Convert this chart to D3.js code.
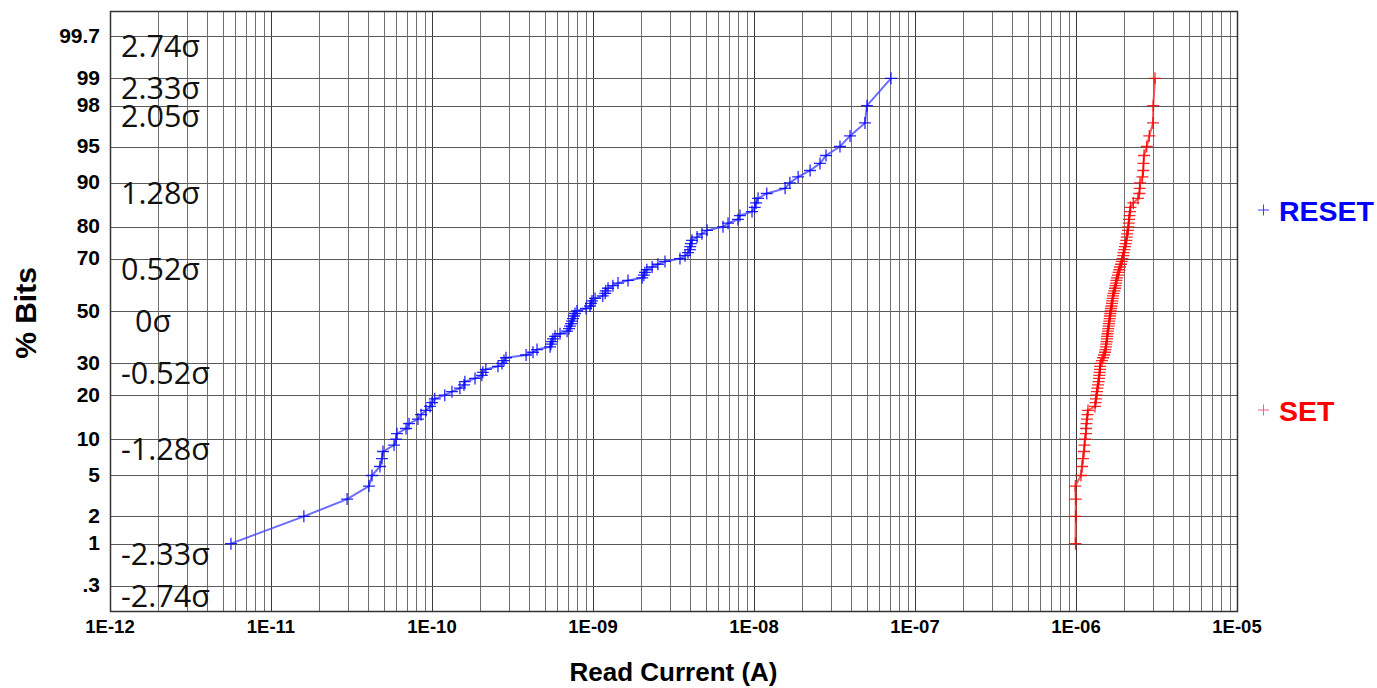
<!DOCTYPE html>
<html>
<head>
<meta charset="utf-8">
<script src="https://cdn.jsdelivr.net/npm/d3@7"></script>
<style>
  html, body { margin: 0; padding: 0; background: #fff; }
  svg { display: block; }
</style>
</head>
<body>
<svg id="chart" width="1377" height="688"></svg>
<script>
// Cumulative plotting positions (% of bits) shared by both distributions
const percentBits = [
   1,  2,  3,  4,  5,  6,  7,  8,  9, 10, 11, 12, 13, 14, 15, 16, 17, 18, 19, 20,
  21, 22, 23, 24, 25, 26, 27, 28, 29, 30, 31, 32, 33, 34, 35, 36, 37, 38, 39, 40,
  41, 42, 43, 44, 45, 46, 47, 48, 49, 50, 51, 52, 53, 54, 55, 56, 57, 58, 59, 60,
  61, 62, 63, 64, 65, 66, 67, 68, 69, 70, 71, 72, 73, 74, 75, 76, 77, 78, 79, 80,
  81, 82, 83, 84, 85, 86, 87, 88, 89, 90, 91, 92, 93, 94, 95, 96, 97, 98, 99
];

// Read current (A) of the RESET (high resistance) state
const resetCurrent = [
  5.64e-12, 1.60e-11, 2.97e-11, 4.06e-11, 4.24e-11, 4.75e-11, 4.89e-11, 4.96e-11, 5.81e-11, 5.98e-11,
  6.06e-11, 6.90e-11, 7.20e-11, 8.18e-11, 8.55e-11, 9.18e-11, 9.72e-11, 1.00e-10, 1.04e-10, 1.20e-10,
  1.33e-10, 1.49e-10, 1.58e-10, 1.60e-10, 1.85e-10, 2.04e-10, 2.07e-10, 2.16e-10, 2.57e-10, 2.72e-10,
  2.80e-10, 2.88e-10, 3.84e-10, 4.24e-10, 4.49e-10, 5.41e-10, 5.48e-10, 5.56e-10, 5.64e-10, 5.81e-10,
  6.24e-10, 6.90e-10, 7.09e-10, 7.20e-10, 7.30e-10, 7.41e-10, 7.51e-10, 7.62e-10, 7.73e-10, 7.95e-10,
  9.05e-10, 9.58e-10, 9.72e-10, 9.86e-10, 1.03e-9,  1.15e-9,  1.19e-9,  1.20e-9,  1.24e-9,  1.33e-9,
  1.43e-9,  1.65e-9,  2.02e-9,  2.07e-9,  2.10e-9,  2.16e-9,  2.33e-9,  2.53e-9,  2.80e-9,  3.47e-9,
  3.73e-9,  3.89e-9,  4.00e-9,  4.02e-9,  4.06e-9,  4.12e-9,  4.43e-9,  4.75e-9,  5.11e-9,  6.42e-9,
  6.90e-9,  7.95e-9,  8.18e-9,  9.72e-9,  1.01e-8,  1.03e-8,  1.06e-8,  1.20e-8,  1.56e-8,  1.67e-8,
  1.88e-8,  2.23e-8,  2.57e-8,  2.80e-8,  3.42e-8,  3.95e-8,  4.89e-8,  5.03e-8,  7.09e-8
];

// Read current (A) of the SET (low resistance) state
const setCurrent = [
  0.993e-6, 0.995e-6, 0.996e-6, 0.990e-6, 1.074e-6, 1.090e-6, 1.105e-6, 1.121e-6, 1.129e-6, 1.137e-6,
  1.154e-6, 1.155e-6, 1.162e-6, 1.170e-6, 1.179e-6, 1.187e-6, 1.312e-6, 1.322e-6, 1.331e-6, 1.341e-6,
  1.350e-6, 1.360e-6, 1.370e-6, 1.380e-6, 1.390e-6, 1.396e-6, 1.400e-6, 1.410e-6, 1.412e-6, 1.420e-6,
  1.450e-6, 1.472e-6, 1.493e-6, 1.514e-6, 1.525e-6, 1.536e-6, 1.542e-6, 1.549e-6, 1.558e-6, 1.562e-6,
  1.569e-6, 1.580e-6, 1.587e-6, 1.594e-6, 1.603e-6, 1.610e-6, 1.619e-6, 1.626e-6, 1.633e-6, 1.642e-6,
  1.650e-6, 1.661e-6, 1.673e-6, 1.680e-6, 1.690e-6, 1.697e-6, 1.710e-6, 1.729e-6, 1.747e-6, 1.759e-6,
  1.772e-6, 1.784e-6, 1.797e-6, 1.823e-6, 1.837e-6, 1.857e-6, 1.876e-6, 1.903e-6, 1.922e-6, 1.944e-6,
  1.967e-6, 1.972e-6, 1.995e-6, 2.015e-6, 2.035e-6, 2.053e-6, 2.065e-6, 2.083e-6, 2.104e-6, 2.113e-6,
  2.125e-6, 2.134e-6, 2.149e-6, 2.165e-6, 2.180e-6, 2.270e-6, 2.427e-6, 2.473e-6, 2.487e-6, 2.497e-6,
  2.588e-6, 2.618e-6, 2.626e-6, 2.645e-6, 2.749e-6, 2.853e-6, 3.008e-6, 3.021e-6, 3.095e-6
];

// Probability-axis ticks
const yTickValues = [0.3, 1, 2, 5, 10, 20, 30, 50, 70, 80, 90, 95, 98, 99, 99.7];
const yTickLabels = [".3", "1", "2", "5", "10", "20", "30", "50", "70", "80", "90", "95", "98", "99", "99.7"];

// Current-axis decade ticks
const xTickValues = [1e-12, 1e-11, 1e-10, 1e-9, 1e-8, 1e-7, 1e-6, 1e-5];
const xTickLabels = ["1E-12", "1E-11", "1E-10", "1E-09", "1E-08", "1E-07", "1E-06", "1E-05"];

// Sigma annotations beside the probability gridlines
const sigmaPct = [99.7, 99, 98, 90, 70, 50, 30, 10, 1, 0.3];
const sigmaText = ["2.74σ", "2.33σ", "2.05σ", "1.28σ", "0.52σ", "0σ", "-0.52σ", "-1.28σ", "-2.33σ", "-2.74σ"];

const seriesNames = ["RESET", "SET"];
const seriesColors = ["#0000ff", "#ff0000"];
const lineColors = ["rgba(70,70,255,0.8)", "rgba(255,50,50,0.8)"];

// Inverse standard normal CDF (Acklam's rational approximation)
function probit(p) {
  const a = [-3.969683028665376e+01, 2.209460984245205e+02, -2.759285104469687e+02,
             1.383577518672690e+02, -3.066479806614716e+01, 2.506628277459239e+00];
  const b = [-5.447609879822406e+01, 1.615858368580409e+02, -1.556989798598866e+02,
             6.680131188771972e+01, -1.328068155288572e+01];
  const c = [-7.784894002430293e-03, -3.223964580411365e-01, -2.400758277161838e+00,
             -2.549732539343734e+00, 4.374664141464968e+00, 2.938163982698783e+00];
  const d = [7.784695709041462e-03, 3.224671290700398e-01, 2.445134137142996e+00,
             3.754408661907416e+00];
  const pl = 0.02425, ph = 1 - pl;
  let q, r;
  if (p < pl) {
    q = Math.sqrt(-2 * Math.log(p));
    return (((((c[0]*q+c[1])*q+c[2])*q+c[3])*q+c[4])*q+c[5]) /
           ((((d[0]*q+d[1])*q+d[2])*q+d[3])*q+1);
  }
  if (p <= ph) {
    q = p - 0.5; r = q * q;
    return (((((a[0]*r+a[1])*r+a[2])*r+a[3])*r+a[4])*r+a[5])*q /
           (((((b[0]*r+b[1])*r+b[2])*r+b[3])*r+b[4])*r+1);
  }
  q = Math.sqrt(-2 * Math.log(1 - p));
  return -(((((c[0]*q+c[1])*q+c[2])*q+c[3])*q+c[4])*q+c[5]) /
          ((((d[0]*q+d[1])*q+d[2])*q+d[3])*q+1);
}

const svg = d3.select("#chart");
const plot = { left: 110, right: 1237, top: 11, bottom: 611 };

const x = d3.scaleLog().domain([1e-12, 1e-5]).range([plot.left, plot.right]);
const zScale = d3.scaleLinear().domain([-3, 3]).range([plot.bottom, plot.top]);
const y = pct => zScale(probit(pct / 100));

const crisp = v => Math.round(v) + 0.5;

// Vertical gridlines: every 1..9 multiple of each decade
const grid = svg.append("g");
const minorTicks = x.ticks();
grid.selectAll("line.vx").data(minorTicks).join("line")
  .attr("class", "vx")
  .attr("x1", d => crisp(x(d))).attr("x2", d => crisp(x(d)))
  .attr("y1", plot.top).attr("y2", plot.bottom)
  .attr("stroke", d => xTickValues.includes(d) ? "#3a3a3a" : "#707070")
  .attr("stroke-width", 1);

// Horizontal gridlines at the probability ticks
grid.selectAll("line.hy").data(yTickValues).join("line")
  .attr("class", "hy")
  .attr("x1", plot.left).attr("x2", plot.right)
  .attr("y1", d => crisp(y(d))).attr("y2", d => crisp(y(d)))
  .attr("stroke", "#5a5a5a")
  .attr("stroke-width", 1.2);

// Plot frame
svg.append("rect")
  .attr("x", plot.left + 0.5).attr("y", plot.top + 0.5)
  .attr("width", plot.right - plot.left).attr("height", plot.bottom - plot.top)
  .attr("fill", "none").attr("stroke", "#333").attr("stroke-width", 1.5);

// Axis tick labels
const labelFont = "'Liberation Sans', Arial, sans-serif";
svg.append("g").selectAll("text").data(yTickValues).join("text")
  .attr("x", 100)
  .attr("y", d => y(d) + 6.5)
  .attr("text-anchor", "end")
  .attr("font-family", labelFont).attr("font-weight", "bold").attr("font-size", 21)
  .attr("fill", "#000")
  .text((d, i) => yTickLabels[i]);

svg.append("g").selectAll("text").data(xTickValues).join("text")
  .attr("x", d => x(d))
  .attr("y", 633)
  .attr("text-anchor", "middle")
  .attr("font-family", labelFont).attr("font-weight", "bold").attr("font-size", 18.5)
  .attr("fill", "#000")
  .text((d, i) => xTickLabels[i]);

// Axis titles
svg.append("text")
  .attr("x", (plot.left + plot.right) / 2).attr("y", 681)
  .attr("text-anchor", "middle")
  .attr("font-family", labelFont).attr("font-weight", "bold").attr("font-size", 26)
  .attr("fill", "#000")
  .text("Read Current (A)");

svg.append("text")
  .attr("transform", "translate(36,313) rotate(-90)")
  .attr("text-anchor", "middle")
  .attr("font-family", labelFont).attr("font-weight", "bold").attr("font-size", 30)
  .attr("fill", "#000")
  .text("% Bits");

// Sigma annotations
svg.append("g").selectAll("text").data(sigmaPct).join("text")
  .attr("x", (d, i) => sigmaText[i] === "0σ" ? 135 : 121)
  .attr("y", d => y(d) + 21)
  .attr("font-family", "'Open Sans', 'Noto Sans', sans-serif")
  .attr("font-size", 30.5)
  .attr("fill", "#111")
  .text((d, i) => sigmaText[i]);

// Distribution curves with plus markers
const plusPath = "M-6,0H6M0,-6V6";
const seriesData = [resetCurrent, setCurrent];
const line = d3.line().x(d => x(d.i)).y(d => y(d.p));

seriesData.forEach((vals, s) => {
  const pts = vals.map((v, k) => ({ i: v, p: percentBits[k] }));
  const g = svg.append("g");
  g.append("path")
    .datum(pts)
    .attr("d", line)
    .attr("fill", "none")
    .attr("stroke", lineColors[s])
    .attr("stroke-width", 2);
  g.selectAll("path.m").data(pts).join("path")
    .attr("class", "m")
    .attr("d", plusPath)
    .attr("transform", d => `translate(${x(d.i)},${y(d.p)})`)
    .attr("stroke", seriesColors[s])
    .attr("stroke-opacity", 0.85)
    .attr("stroke-width", 1.3)
    .attr("fill", "none");
});

// Legend
const legendY = [210, 410];
const legendMark = ["#3a3aff", "#ff5a8a"];
seriesNames.forEach((name, s) => {
  svg.append("path")
    .attr("d", "M-5.5,0H5.5M0,-5.5V5.5")
    .attr("transform", `translate(1263.5,${legendY[s]})`)
    .attr("stroke", legendMark[s]).attr("stroke-width", 1).attr("fill", "none");
  svg.append("text")
    .attr("x", 1279).attr("y", legendY[s] + 10.5)
    .attr("font-family", labelFont).attr("font-weight", "bold").attr("font-size", 28.5)
    .attr("fill", seriesColors[s])
    .text(name);
});
</script>
</body>
</html>
